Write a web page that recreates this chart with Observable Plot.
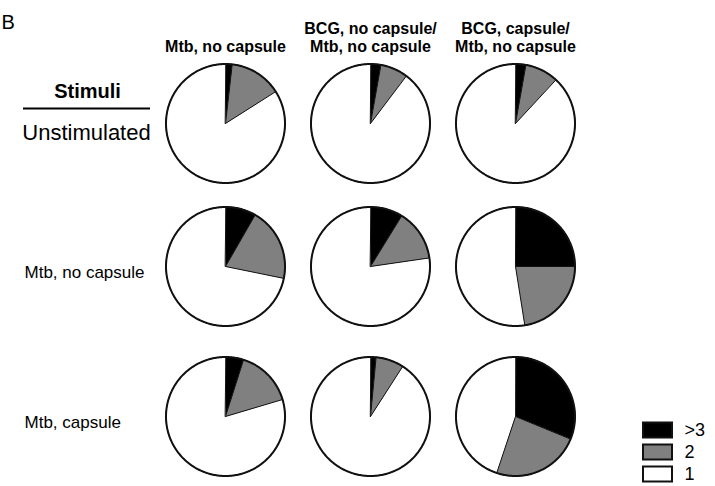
<!DOCTYPE html>
<html>
<head>
<meta charset="utf-8">
<script src="https://cdn.jsdelivr.net/npm/d3@7"></script>
<script src="https://cdn.jsdelivr.net/npm/@observablehq/plot@0.6"></script>
<style>
  html, body { margin: 0; padding: 0; background: #fff; }
  svg { font-family: "Liberation Sans", Arial, sans-serif; }
</style>
</head>
<body>
<div id="chart"></div>
<script>
// ---- data ----
const panelLabel = "B";
const columnHeaders = ["Mtb, no capsule", "BCG, no capsule/\nMtb, no capsule", "BCG, capsule/\nMtb, no capsule"];
const rowHeaderTitle = "Stimuli";
const rowHeaders = ["Unstimulated", "Mtb, no capsule", "Mtb, capsule"];
const categories = [">3", "2", "1"];
const categoryColors = ["#000000", "#808080", "#ffffff"];
// shares in %, row-major (row = stimulus, column = population)
const shareGt3 = [1.8, 2.8, 2.8, 8.3, 8.8, 25.0, 4.9, 1.5, 31.2];
const share2   = [14.2, 7.5, 9.1, 19.9, 13.9, 22.5, 15.5, 7.6, 23.9];
const share1   = [84.0, 89.7, 88.1, 71.8, 77.3, 52.5, 79.6, 90.9, 44.9];

// ---- layout ----
const W = 715, H = 486;
const colX = [225, 370, 515];
const rowY = [123, 266, 416];
const R = 59.5;

// build slice polygons from the shares
const slices = [];
const outlines = [];
const pt = (cx, cy, a, r) => ({x: cx + r * Math.sin(a), y: cy - r * Math.cos(a)});
for (let i = 0; i < 9; i++) {
  const row = Math.floor(i / 3), col = i % 3;
  const cx = colX[col], cy = rowY[row];
  const vals = [shareGt3[i], share2[i], share1[i]];
  const tot = d3.sum(vals);
  let a0 = 0;
  vals.forEach((v, k) => {
    const a1 = a0 + (v / tot) * 2 * Math.PI;
    const id = `${i}-${k}`;
    slices.push({id, cat: categories[k], ...pt(cx, cy, 0, 0)});
    const n = Math.max(2, Math.ceil((a1 - a0) / (Math.PI / 180)));
    for (let j = 0; j <= n; j++) {
      slices.push({id, cat: categories[k], ...pt(cx, cy, a0 + (a1 - a0) * j / n, R)});
    }
    a0 = a1;
  });
  for (let j = 0; j <= 360; j++) outlines.push({id: i, ...pt(cx, cy, j * Math.PI / 180, R)});
}

const headerData = columnHeaders.map((t, i) => ({t, x: colX[i], y: 51}));
const stimData = [{t: rowHeaders[0], x: 86, y: 139}];
const rowData = rowHeaders.slice(1).map((t, i) => ({t, x: 24, y: rowY[i + 1] + 11}));
const legendData = categories.map((c, i) => ({c, i, y: 430 + i * 22}));

const chart = Plot.plot({
  width: W, height: H,
  margin: 0,
  x: {domain: [0, W], range: [0, W], axis: null},
  y: {domain: [0, H], range: [0, H], axis: null},
  color: {domain: categories, range: categoryColors},
  style: {fontFamily: '"Liberation Sans", Arial, sans-serif', background: "white"},
  marks: [
    Plot.line(slices, {x: "x", y: "y", z: "id", fill: "cat", stroke: "#111", strokeWidth: 1, curve: "linear-closed", strokeLinejoin: "round"}),
    Plot.line(outlines, {x: "x", y: "y", z: "id", stroke: "#111", strokeWidth: 2, curve: "linear-closed"}),
    Plot.text([panelLabel], {x: 1, y: 22, text: d => d, textAnchor: "start", fontSize: 20, fill: "black"}),
    Plot.text(headerData, {x: "x", y: "y", text: "t", lineAnchor: "bottom", fontSize: 16, fontWeight: "bold", fill: "black", lineHeight: 1.12}),
    Plot.text([rowHeaderTitle], {x: 87, y: 97, text: d => d, lineAnchor: "bottom", fontSize: 20, fontWeight: "bold", fill: "black"}),
    Plot.ruleY([108], {x1: 23, x2: 150, stroke: "black", strokeWidth: 2}),
    Plot.text(stimData, {x: "x", y: "y", text: "t", lineAnchor: "bottom", fontSize: 22, fill: "black"}),
    Plot.text(rowData, {x: "x", y: "y", text: "t", textAnchor: "start", lineAnchor: "bottom", fontSize: 17, fill: "black"}),
    Plot.rect(legendData, {x1: 643, x2: 672, y1: d => d.y - 7.5, y2: d => d.y + 7.5, fill: "c", stroke: "#111", strokeWidth: 2}),
    Plot.text(legendData, {x: 684, y: "y", text: "c", textAnchor: "start", fontSize: 18, fill: "black"})
  ]
});
document.getElementById("chart").appendChild(chart);
</script>
</body>
</html>
